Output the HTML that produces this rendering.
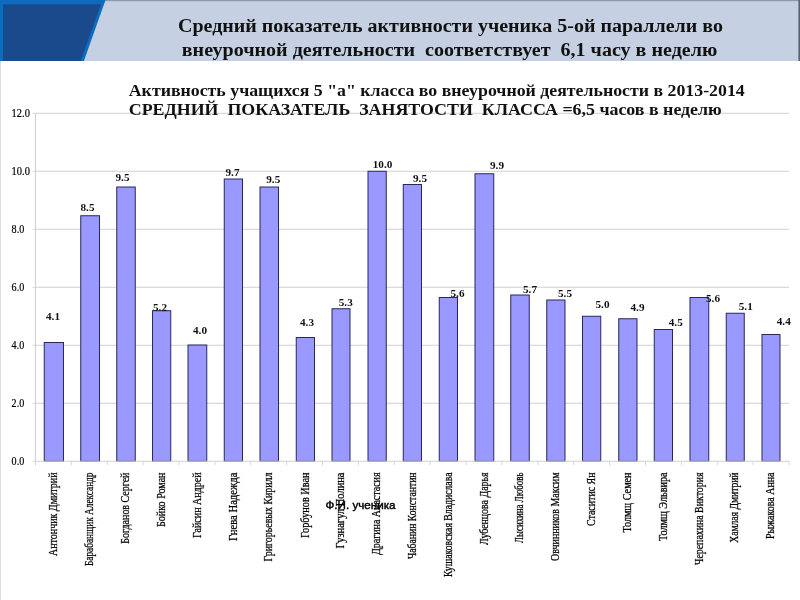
<!DOCTYPE html>
<html lang="ru"><head><meta charset="utf-8"><title>Слайд</title>
<style>
html,body{margin:0;padding:0;background:#fff;}
body{width:800px;height:600px;overflow:hidden;position:relative;font-family:"Liberation Serif",serif;}
svg{position:absolute;left:0;top:0;display:block;}
.t{font-family:"Liberation Serif",serif;font-weight:bold;fill:#111;}
.ax{font-family:"Liberation Serif",serif;font-size:11.6px;fill:#000;stroke:#000;stroke-width:0.2px;}
.dl{font-family:"Liberation Serif",serif;font-weight:bold;font-size:11.2px;fill:#111;text-anchor:middle;}
.nm{font-family:"Liberation Serif",serif;font-size:11.5px;fill:#000;text-anchor:start;stroke:#000;stroke-width:0.25px;}
.at{font-family:"Liberation Sans",sans-serif;font-size:11.5px;fill:#000;stroke:#000;stroke-width:0.45px;}
</style></head><body>
<svg width="800" height="600" viewBox="0 0 800 600">

<rect x="0" y="0" width="800" height="600" fill="#ffffff"/>
<rect x="0" y="0" width="800" height="61" fill="#c5d1e2"/>
<rect x="0" y="0" width="800" height="1.2" fill="#8c9bb4"/>
<polygon points="0,0 105.5,0 83.9,61 0,61" fill="#0d6cbf"/>
<polygon points="3,4.2 101,4.2 80.6,61 3,61" fill="#1a4a8b"/>
<rect x="798.4" y="0" width="1.6" height="61" fill="#5a6272"/>
<rect x="0" y="61" width="1" height="539" fill="#dcdcdc"/>
<g style="filter:blur(0.4px)">
<text class="t" x="450.5" y="31.8" font-size="19.6" text-anchor="middle" textLength="545" lengthAdjust="spacingAndGlyphs">Средний показатель активности ученика 5-ой параллели во</text>
<text class="t" x="449.5" y="55.7" font-size="19.6" text-anchor="middle" textLength="535.5" lengthAdjust="spacingAndGlyphs" style="white-space:pre">внеурочной деятельности  соответствует  6,1 часу в неделю</text>
<line x1="35.5" y1="403.25" x2="789.0" y2="403.25" stroke="#d0d0d0" stroke-width="1"/>
<line x1="35.5" y1="345.25" x2="789.0" y2="345.25" stroke="#d0d0d0" stroke-width="1"/>
<line x1="35.5" y1="287.25" x2="789.0" y2="287.25" stroke="#d0d0d0" stroke-width="1"/>
<line x1="35.5" y1="229.25" x2="789.0" y2="229.25" stroke="#d0d0d0" stroke-width="1"/>
<line x1="35.5" y1="171.25" x2="789.0" y2="171.25" stroke="#d0d0d0" stroke-width="1"/>
<line x1="35.5" y1="113.25" x2="789.0" y2="113.25" stroke="#d0d0d0" stroke-width="1"/>
<line x1="35.5" y1="113.25" x2="35.5" y2="461.25" stroke="#d2d2d2" stroke-width="1.2"/>
<line x1="32.5" y1="461.25" x2="35.5" y2="461.25" stroke="#d6d6d6" stroke-width="1"/>
<text class="ax" x="11.6" y="465.35" textLength="12.6" lengthAdjust="spacingAndGlyphs">0.0</text>
<line x1="32.5" y1="403.25" x2="35.5" y2="403.25" stroke="#d6d6d6" stroke-width="1"/>
<text class="ax" x="11.6" y="407.35" textLength="12.6" lengthAdjust="spacingAndGlyphs">2.0</text>
<line x1="32.5" y1="345.25" x2="35.5" y2="345.25" stroke="#d6d6d6" stroke-width="1"/>
<text class="ax" x="11.6" y="349.35" textLength="12.6" lengthAdjust="spacingAndGlyphs">4.0</text>
<line x1="32.5" y1="287.25" x2="35.5" y2="287.25" stroke="#d6d6d6" stroke-width="1"/>
<text class="ax" x="11.6" y="291.35" textLength="12.6" lengthAdjust="spacingAndGlyphs">6.0</text>
<line x1="32.5" y1="229.25" x2="35.5" y2="229.25" stroke="#d6d6d6" stroke-width="1"/>
<text class="ax" x="11.6" y="233.35" textLength="12.6" lengthAdjust="spacingAndGlyphs">8.0</text>
<line x1="32.5" y1="171.25" x2="35.5" y2="171.25" stroke="#d6d6d6" stroke-width="1"/>
<text class="ax" x="11.6" y="175.35" textLength="18.3" lengthAdjust="spacingAndGlyphs">10.0</text>
<line x1="32.5" y1="113.25" x2="35.5" y2="113.25" stroke="#d6d6d6" stroke-width="1"/>
<text class="ax" x="11.6" y="117.35" textLength="18.3" lengthAdjust="spacingAndGlyphs">12.0</text>
<text class="t" x="128.75" y="95.7" font-size="16" textLength="616" lengthAdjust="spacingAndGlyphs">Активность учащихся 5 "а" класса во внеурочной деятельности в 2013-2014</text>
<text class="t" x="128.75" y="115.1" font-size="16" textLength="593" lengthAdjust="spacingAndGlyphs" style="white-space:pre">СРЕДНИЙ  ПОКАЗАТЕЛЬ  ЗАНЯТОСТИ  КЛАССА =6,5 часов в неделю</text>
<rect x="44.25" y="342.50" width="19.25" height="118.75" fill="#9999ff" stroke="#28285c" stroke-width="1"/>
<rect x="80.75" y="215.75" width="18.75" height="245.50" fill="#9999ff" stroke="#28285c" stroke-width="1"/>
<rect x="116.75" y="187.00" width="18.50" height="274.25" fill="#9999ff" stroke="#28285c" stroke-width="1"/>
<rect x="152.50" y="310.75" width="18.25" height="150.50" fill="#9999ff" stroke="#28285c" stroke-width="1"/>
<rect x="188.00" y="345.00" width="18.75" height="116.25" fill="#9999ff" stroke="#28285c" stroke-width="1"/>
<rect x="224.25" y="179.00" width="18.25" height="282.25" fill="#9999ff" stroke="#28285c" stroke-width="1"/>
<rect x="260.00" y="187.00" width="18.50" height="274.25" fill="#9999ff" stroke="#28285c" stroke-width="1"/>
<rect x="296.25" y="337.50" width="18.25" height="123.75" fill="#9999ff" stroke="#28285c" stroke-width="1"/>
<rect x="332.00" y="308.75" width="18.00" height="152.50" fill="#9999ff" stroke="#28285c" stroke-width="1"/>
<rect x="368.00" y="171.25" width="18.25" height="290.00" fill="#9999ff" stroke="#28285c" stroke-width="1"/>
<rect x="403.25" y="184.50" width="18.25" height="276.75" fill="#9999ff" stroke="#28285c" stroke-width="1"/>
<rect x="439.25" y="297.50" width="18.25" height="163.75" fill="#9999ff" stroke="#28285c" stroke-width="1"/>
<rect x="475.00" y="173.75" width="18.75" height="287.50" fill="#9999ff" stroke="#28285c" stroke-width="1"/>
<rect x="510.75" y="295.00" width="18.50" height="166.25" fill="#9999ff" stroke="#28285c" stroke-width="1"/>
<rect x="546.75" y="300.00" width="18.25" height="161.25" fill="#9999ff" stroke="#28285c" stroke-width="1"/>
<rect x="582.50" y="316.25" width="18.25" height="145.00" fill="#9999ff" stroke="#28285c" stroke-width="1"/>
<rect x="618.75" y="318.75" width="18.25" height="142.50" fill="#9999ff" stroke="#28285c" stroke-width="1"/>
<rect x="654.25" y="329.50" width="18.25" height="131.75" fill="#9999ff" stroke="#28285c" stroke-width="1"/>
<rect x="690.00" y="297.50" width="18.75" height="163.75" fill="#9999ff" stroke="#28285c" stroke-width="1"/>
<rect x="726.25" y="313.25" width="18.00" height="148.00" fill="#9999ff" stroke="#28285c" stroke-width="1"/>
<rect x="762.00" y="334.50" width="18.00" height="126.75" fill="#9999ff" stroke="#28285c" stroke-width="1"/>
<line x1="35.5" y1="461.25" x2="789.0" y2="461.25" stroke="#cfcfcf" stroke-width="1.2"/>
<line x1="35.50" y1="461.25" x2="35.50" y2="465.25" stroke="#d6d6d6" stroke-width="1"/>
<line x1="71.38" y1="461.25" x2="71.38" y2="465.25" stroke="#d6d6d6" stroke-width="1"/>
<line x1="107.26" y1="461.25" x2="107.26" y2="465.25" stroke="#d6d6d6" stroke-width="1"/>
<line x1="143.14" y1="461.25" x2="143.14" y2="465.25" stroke="#d6d6d6" stroke-width="1"/>
<line x1="179.02" y1="461.25" x2="179.02" y2="465.25" stroke="#d6d6d6" stroke-width="1"/>
<line x1="214.90" y1="461.25" x2="214.90" y2="465.25" stroke="#d6d6d6" stroke-width="1"/>
<line x1="250.79" y1="461.25" x2="250.79" y2="465.25" stroke="#d6d6d6" stroke-width="1"/>
<line x1="286.67" y1="461.25" x2="286.67" y2="465.25" stroke="#d6d6d6" stroke-width="1"/>
<line x1="322.55" y1="461.25" x2="322.55" y2="465.25" stroke="#d6d6d6" stroke-width="1"/>
<line x1="358.43" y1="461.25" x2="358.43" y2="465.25" stroke="#d6d6d6" stroke-width="1"/>
<line x1="394.31" y1="461.25" x2="394.31" y2="465.25" stroke="#d6d6d6" stroke-width="1"/>
<line x1="430.19" y1="461.25" x2="430.19" y2="465.25" stroke="#d6d6d6" stroke-width="1"/>
<line x1="466.07" y1="461.25" x2="466.07" y2="465.25" stroke="#d6d6d6" stroke-width="1"/>
<line x1="501.95" y1="461.25" x2="501.95" y2="465.25" stroke="#d6d6d6" stroke-width="1"/>
<line x1="537.83" y1="461.25" x2="537.83" y2="465.25" stroke="#d6d6d6" stroke-width="1"/>
<line x1="573.71" y1="461.25" x2="573.71" y2="465.25" stroke="#d6d6d6" stroke-width="1"/>
<line x1="609.60" y1="461.25" x2="609.60" y2="465.25" stroke="#d6d6d6" stroke-width="1"/>
<line x1="645.48" y1="461.25" x2="645.48" y2="465.25" stroke="#d6d6d6" stroke-width="1"/>
<line x1="681.36" y1="461.25" x2="681.36" y2="465.25" stroke="#d6d6d6" stroke-width="1"/>
<line x1="717.24" y1="461.25" x2="717.24" y2="465.25" stroke="#d6d6d6" stroke-width="1"/>
<line x1="753.12" y1="461.25" x2="753.12" y2="465.25" stroke="#d6d6d6" stroke-width="1"/>
<line x1="789.00" y1="461.25" x2="789.00" y2="465.25" stroke="#d6d6d6" stroke-width="1"/>
<text class="dl" x="53" y="319.5">4.1</text>
<text class="dl" x="87.5" y="210.75">8.5</text>
<text class="dl" x="122.5" y="181.25">9.5</text>
<text class="dl" x="160" y="311">5.2</text>
<text class="dl" x="200" y="333.75">4.0</text>
<text class="dl" x="232.5" y="175.75">9.7</text>
<text class="dl" x="273.25" y="182.5">9.5</text>
<text class="dl" x="307" y="326.25">4.3</text>
<text class="dl" x="345.75" y="306.25">5.3</text>
<text class="dl" x="382.5" y="167.5">10.0</text>
<text class="dl" x="420" y="182">9.5</text>
<text class="dl" x="457.5" y="297">5.6</text>
<text class="dl" x="497" y="168.75">9.9</text>
<text class="dl" x="530" y="293">5.7</text>
<text class="dl" x="565" y="297">5.5</text>
<text class="dl" x="602.5" y="307.5">5.0</text>
<text class="dl" x="637.5" y="311.25">4.9</text>
<text class="dl" x="675.75" y="326.25">4.5</text>
<text class="dl" x="713" y="302">5.6</text>
<text class="dl" x="745.75" y="310">5.1</text>
<text class="dl" x="783.75" y="324.5">4.4</text>
<text class="nm" transform="translate(57.08,556.00) rotate(-90)" textLength="83.5" lengthAdjust="spacingAndGlyphs">Антончик Дмитрий</text>
<text class="nm" transform="translate(93.33,566.00) rotate(-90)" textLength="93.5" lengthAdjust="spacingAndGlyphs">Барабанщик Александр</text>
<text class="nm" transform="translate(129.20,543.75) rotate(-90)" textLength="71.2" lengthAdjust="spacingAndGlyphs">Богданов Сергей</text>
<text class="nm" transform="translate(164.82,527.00) rotate(-90)" textLength="54.5" lengthAdjust="spacingAndGlyphs">Бойко Роман</text>
<text class="nm" transform="translate(200.57,538.00) rotate(-90)" textLength="65.5" lengthAdjust="spacingAndGlyphs">Гайсин Андрей</text>
<text class="nm" transform="translate(236.57,541.00) rotate(-90)" textLength="68.5" lengthAdjust="spacingAndGlyphs">Гнева Надежда</text>
<text class="nm" transform="translate(272.45,561.40) rotate(-90)" textLength="88.9" lengthAdjust="spacingAndGlyphs">Григорьевых Кирилл</text>
<text class="nm" transform="translate(308.57,538.00) rotate(-90)" textLength="65.5" lengthAdjust="spacingAndGlyphs">Горбунов Иван</text>
<text class="nm" transform="translate(344.20,548.40) rotate(-90)" textLength="75.9" lengthAdjust="spacingAndGlyphs">Гузнагул Полина</text>
<text class="nm" transform="translate(380.32,555.00) rotate(-90)" textLength="82.5" lengthAdjust="spacingAndGlyphs">Драгина Анастасия</text>
<text class="nm" transform="translate(415.57,559.00) rotate(-90)" textLength="86.5" lengthAdjust="spacingAndGlyphs">Чабанин Константин</text>
<text class="nm" transform="translate(451.57,577.00) rotate(-90)" textLength="104.5" lengthAdjust="spacingAndGlyphs">Кушаковская Владислава</text>
<text class="nm" transform="translate(487.57,545.00) rotate(-90)" textLength="72.5" lengthAdjust="spacingAndGlyphs">Лубенцова Дарья</text>
<text class="nm" transform="translate(523.20,543.00) rotate(-90)" textLength="70.5" lengthAdjust="spacingAndGlyphs">Лысихина Любовь</text>
<text class="nm" transform="translate(559.08,561.00) rotate(-90)" textLength="88.5" lengthAdjust="spacingAndGlyphs">Овчинников Максим</text>
<text class="nm" transform="translate(594.83,526.00) rotate(-90)" textLength="53.5" lengthAdjust="spacingAndGlyphs">Стаситис Ян</text>
<text class="nm" transform="translate(631.08,532.50) rotate(-90)" textLength="60.0" lengthAdjust="spacingAndGlyphs">Толмщ Семен</text>
<text class="nm" transform="translate(666.58,541.00) rotate(-90)" textLength="68.5" lengthAdjust="spacingAndGlyphs">Толмщ Эльвира</text>
<text class="nm" transform="translate(702.58,565.00) rotate(-90)" textLength="92.5" lengthAdjust="spacingAndGlyphs">Черепахина Виктория</text>
<text class="nm" transform="translate(738.45,542.70) rotate(-90)" textLength="70.2" lengthAdjust="spacingAndGlyphs">Хамлая Дмитрий</text>
<text class="nm" transform="translate(774.20,539.00) rotate(-90)" textLength="66.5" lengthAdjust="spacingAndGlyphs">Рыжакова Анна</text>
<text class="at" x="325.5" y="508.7" textLength="70" lengthAdjust="spacingAndGlyphs">Ф.И. ученика</text>
</g>
</svg>
</body></html>
